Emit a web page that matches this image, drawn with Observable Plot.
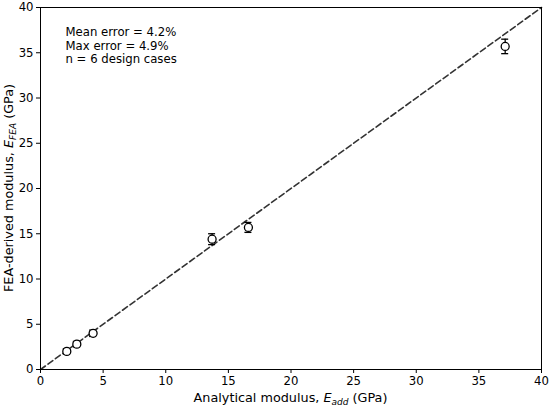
<!DOCTYPE html>
<html>
<head>
<meta charset="utf-8">
<script src="https://cdn.jsdelivr.net/npm/d3@7"></script>
<script src="https://cdn.jsdelivr.net/npm/@observablehq/plot@0.6"></script>
<style>
  html, body { margin: 0; padding: 0; background: #fff; }
  svg { display: block; }
</style>
</head>
<body>
<div id="chart"></div>
<script>
// Data
const analytical = [2.1, 2.9, 4.2, 13.7, 16.6, 37.1];
const feaModulus = [2.0, 2.8, 4.0, 14.4, 15.7, 35.7];
const feaError   = [0.3, 0.3, 0.35, 0.6, 0.55, 0.8];
const xTicks = [0, 5, 10, 15, 20, 25, 30, 35, 40];
const yTicks = [0, 5, 10, 15, 20, 25, 30, 35, 40];
const parityLine = [0, 40];
const annotationLines = ["Mean error = 4.2%", "Max error = 4.9%", "n = 6 design cases"];

const points = analytical.map((x, i) => ({x, y: feaModulus[i], e: feaError[i]}));
const diag = parityLine.map(v => ({x: v, y: v}));
const capHalf = 0.28;

const W = 550, H = 408;
const plot = Plot.plot({
  width: W, height: H,
  marginLeft: 40, marginRight: 9, marginTop: 7, marginBottom: 39,
  style: {fontFamily: "DejaVu Sans, sans-serif", fontSize: "11.7px", color: "#000", background: "#fff"},
  x: {domain: [0, 40], label: null},
  y: {domain: [0, 40], label: null},
  marks: [
    Plot.line(diag, {x: "x", y: "y", stroke: "#333", strokeWidth: 1.6, strokeDasharray: "6,3.2"}),
    Plot.ruleX(points, {x: "x", y1: d => d.y - d.e, y2: d => d.y + d.e, stroke: "#000", strokeWidth: 1.3}),
    Plot.ruleY(points, {y: d => d.y - d.e, x1: d => d.x - capHalf, x2: d => d.x + capHalf, stroke: "#000", strokeWidth: 1.3}),
    Plot.ruleY(points, {y: d => d.y + d.e, x1: d => d.x - capHalf, x2: d => d.x + capHalf, stroke: "#000", strokeWidth: 1.3}),
    Plot.dot(points, {x: "x", y: "y", r: 4, stroke: "#000", fill: "#fff", strokeWidth: 1.3}),
    Plot.frame({stroke: "#000", strokeWidth: 1}),
    Plot.axisX({ticks: xTicks, tickSize: 4, tickPadding: 3, label: null, tickFormat: d => d}),
    Plot.axisY({ticks: yTicks, tickSize: 4, tickPadding: 3, label: null, tickFormat: d => d}),
    Plot.text([annotationLines.join("\n")], {
      frameAnchor: "top-left", dx: 25, dy: 19, textAnchor: "start", lineAnchor: "top",
      fontSize: 11.7, lineHeight: 1.15, fill: "#000"
    })
  ]
});
document.getElementById("chart").appendChild(plot);

// Axis labels with italic subscripts
const svg = d3.select(plot);
const xl = svg.append("text")
  .attr("x", 290.5).attr("y", 402)
  .attr("text-anchor", "middle")
  .attr("font-family", "DejaVu Sans, sans-serif")
  .attr("font-size", 12.8).attr("fill", "#000");
xl.append("tspan").text("Analytical modulus, ");
xl.append("tspan").attr("font-style", "italic").text("E");
xl.append("tspan").attr("font-style", "italic").attr("font-size", 9).attr("dy", 2.7).text("add");
xl.append("tspan").attr("dy", -2.7).text(" (GPa)");

const yl = svg.append("text")
  .attr("transform", "translate(13,188) rotate(-90)")
  .attr("text-anchor", "middle")
  .attr("font-family", "DejaVu Sans, sans-serif")
  .attr("font-size", 12.8).attr("fill", "#000");
yl.append("tspan").text("FEA-derived modulus, ");
yl.append("tspan").attr("font-style", "italic").text("E");
yl.append("tspan").attr("font-style", "italic").attr("font-size", 9).attr("dy", 2.7).text("FEA");
yl.append("tspan").attr("dy", -2.7).text(" (GPa)");
</script>
</body>
</html>
